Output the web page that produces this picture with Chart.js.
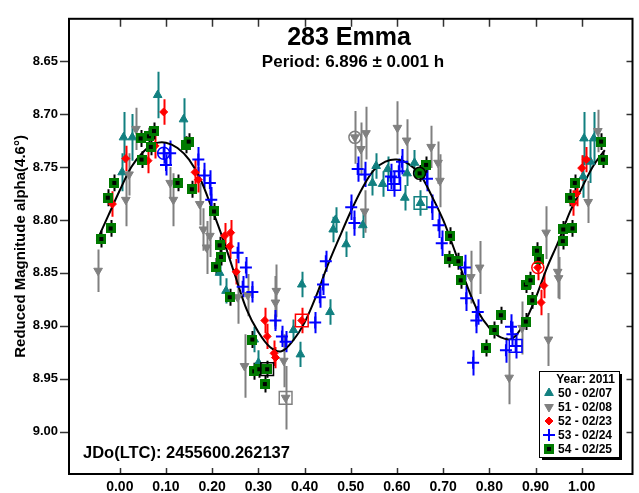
<!DOCTYPE html>
<html>
<head>
<meta charset="utf-8">
<script src="https://cdn.jsdelivr.net/npm/chart.js@4.4.1/dist/chart.umd.min.js"></script>
<style>
html, body { margin: 0; padding: 0; background: #fff; overflow: hidden; }
#wrap { width: 643px; height: 493px; }
</style>
</head>
<body>
<div id="wrap"><canvas id="lightcurve" width="643" height="493"></canvas></div>
<script>
// axis ticks
const xTicks = [0, 0.1, 0.2, 0.3, 0.4, 0.5, 0.6, 0.7, 0.8, 0.9, 1.0];
const xTickLabels = ['0.00', '0.10', '0.20', '0.30', '0.40', '0.50', '0.60', '0.70', '0.80', '0.90', '1.00'];
const yTicks = [8.65, 8.70, 8.75, 8.80, 8.85, 8.90, 8.95, 9.00];
const yTickLabels = ['8.65', '8.70', '8.75', '8.80', '8.85', '8.90', '8.95', '9.00'];

const sessionLabels = ['50 - 02/07', '51 - 02/08', '52 - 02/23', '53 - 02/24', '54 - 02/25'];

// session 50 - 02/07
const s50Phase = [0.008, 0.027, 0.005, 0.082, 0.138, 0.216, 0.230, 0.291, 0.300, 0.376, 0.391, 0.394, 0.455, 0.462, 0.467, 0.490, 0.526, 0.547, 0.555, 0.569, 0.580, 0.617, 0.622, 0.638, 0.651, 1.003, 1.005, 1.019, 1.026];
const s50Mag   = [8.722, 8.722, 8.755, 8.682, 8.705, 8.850, 8.867, 8.913, 8.935, 8.904, 8.927, 8.861, 8.887, 8.809, 8.800, 8.823, 8.805, 8.765, 8.749, 8.766, 8.752, 8.779, 8.756, 8.746, 8.784, 8.759, 8.723, 8.745, 8.723];
const s50Err   = [0.024, 0.022, 0.018, 0.022, 0.020, 0.012, 0.012, 0.012, 0.012, 0.010, 0.012, 0.012, 0.012, 0.012, 0.012, 0.012, 0.012, 0.012, 0.012, 0.012, 0.012, 0.012, 0.012, 0.012, 0.012, 0.020, 0.025, 0.020, 0.025];

// session 51 - 02/08
const s51Phase = [-0.047, 0.013, 0.020, 0.035, 0.109, 0.116, 0.173, 0.181, 0.188, 0.195, 0.255, 0.270, 0.277, 0.337, 0.339, 0.355, 0.359, 0.509, 0.522, 0.530, 0.533, 0.601, 0.621, 0.674, 0.689, 0.693, 0.760, 0.779, 0.843, 0.871, 0.923, 0.928, 0.948, 0.950, 1.014, 1.035];
const s51Mag   = [8.848, 8.781, 8.757, 8.714, 8.765, 8.781, 8.785, 8.809, 8.826, 8.815, 8.873, 8.938, 8.871, 8.878, 8.867, 8.933, 8.968, 8.722, 8.733, 8.792, 8.718, 8.713, 8.725, 8.731, 8.746, 8.763, 8.854, 8.845, 8.949, 8.902, 8.812, 8.913, 8.849, 8.855, 8.783, 8.716];
const s51Err   = [0.020, 0.025, 0.020, 0.020, 0.015, 0.025, 0.020, 0.020, 0.025, 0.020, 0.025, 0.030, 0.020, 0.025, 0.025, 0.025, 0.030, 0.025, 0.025, 0.020, 0.025, 0.025, 0.020, 0.020, 0.020, 0.025, 0.025, 0.025, 0.025, 0.025, 0.025, 0.025, 0.025, 0.020, 0.020, 0.020];

// session 52 - 02/23
const s52Phase = [-0.016, 0.013, 0.061, 0.076, 0.095, 0.163, 0.170, 0.227, 0.238, 0.240, 0.252, 0.314, 0.319, 0.334, 0.337, 0.394, 0.905, 0.912, 0.918, 0.982, 0.989, 1.000, 1.010];
const s52Mag   = [8.785, 8.742, 8.744, 8.730, 8.698, 8.755, 8.762, 8.815, 8.825, 8.812, 8.849, 8.895, 8.910, 8.926, 8.930, 8.895, 8.845, 8.878, 8.862, 8.784, 8.775, 8.751, 8.743];
const s52Err   = [0.012, 0.012, 0.012, 0.012, 0.012, 0.012, 0.012, 0.012, 0.012, 0.012, 0.012, 0.012, 0.012, 0.012, 0.010, 0.012, 0.012, 0.012, 0.012, 0.012, 0.012, 0.012, 0.012];

// session 53 - 02/24
const s53Phase = [0.095, 0.100, 0.109, 0.170, 0.183, 0.195, 0.198, 0.255, 0.266, 0.273, 0.287, 0.337, 0.351, 0.359, 0.423, 0.433, 0.440, 0.446, 0.501, 0.508, 0.515, 0.530, 0.587, 0.594, 0.604, 0.611, 0.665, 0.676, 0.690, 0.697, 0.747, 0.750, 0.765, 0.772, 0.775, 0.836, 0.847, 0.850, 0.857];
const s53Mag   = [8.737, 8.748, 8.737, 8.743, 8.758, 8.765, 8.781, 8.831, 8.863, 8.845, 8.868, 8.895, 8.910, 8.915, 8.897, 8.873, 8.861, 8.839, 8.788, 8.803, 8.752, 8.757, 8.759, 8.766, 8.754, 8.745, 8.761, 8.788, 8.805, 8.822, 8.845, 8.874, 8.935, 8.895, 8.887, 8.923, 8.901, 8.908, 8.919];
const s53Err   = [0.010, 0.010, 0.012, 0.012, 0.012, 0.012, 0.012, 0.010, 0.010, 0.010, 0.010, 0.010, 0.010, 0.010, 0.010, 0.010, 0.010, 0.010, 0.012, 0.012, 0.012, 0.012, 0.012, 0.012, 0.012, 0.012, 0.012, 0.012, 0.012, 0.012, 0.012, 0.012, 0.012, 0.012, 0.012, 0.012, 0.012, 0.012, 0.012];

// session 54 - 02/25
const s54Phase = [-0.040, -0.026, -0.020, -0.012, 0.045, 0.047, 0.063, 0.067, 0.074, 0.125, 0.144, 0.149, 0.156, 0.204, 0.208, 0.216, 0.219, 0.238, 0.287, 0.291, 0.302, 0.314, 0.319, 0.649, 0.663, 0.713, 0.715, 0.733, 0.738, 0.793, 0.811, 0.825, 0.879, 0.879, 0.889, 0.893, 0.903, 0.907, 0.959, 0.960, 0.975, 0.980, 0.985, 1.042, 1.046];
const s54Mag   = [8.818, 8.779, 8.808, 8.765, 8.723, 8.743, 8.721, 8.731, 8.716, 8.765, 8.729, 8.726, 8.771, 8.792, 8.844, 8.824, 8.835, 8.873, 8.913, 8.943, 8.941, 8.955, 8.941, 8.756, 8.748, 8.837, 8.815, 8.839, 8.857, 8.921, 8.904, 8.890, 8.896, 8.861, 8.857, 8.876, 8.829, 8.837, 8.820, 8.809, 8.779, 8.808, 8.765, 8.726, 8.743];
const s54Err   = [0.008, 0.008, 0.008, 0.008, 0.008, 0.008, 0.008, 0.008, 0.008, 0.008, 0.008, 0.008, 0.008, 0.008, 0.008, 0.008, 0.008, 0.008, 0.008, 0.008, 0.008, 0.008, 0.008, 0.008, 0.008, 0.008, 0.008, 0.008, 0.008, 0.008, 0.008, 0.008, 0.008, 0.008, 0.008, 0.008, 0.008, 0.008, 0.008, 0.008, 0.008, 0.008, 0.008, 0.008, 0.008];

// open markers on the first point of each session
const markPhase = [0.095, 0.509, 0.359, 0.394, 0.319, 0.649, 0.651, 0.594, 0.905, 0.857];
const markMag   = [8.737, 8.722, 8.968, 8.895, 8.941, 8.756, 8.784, 8.766, 8.845, 8.919];
const markStyle = ['circle', 'circle', 'rect', 'rect', 'rect', 'circle', 'rect', 'rect', 'circle', 'rect'];
const markColor = ['#0000ff', '#808080', '#808080', '#ff0000', '#000000', '#000000', '#128080', '#0000ff', '#ff0000', '#0000ff'];

// fourier fit
const fitPhase = [-0.05, -0.025, 0.0, 0.025, 0.05, 0.075, 0.10, 0.125, 0.15, 0.175, 0.20, 0.225, 0.25, 0.275, 0.30, 0.325, 0.35, 0.375, 0.40, 0.425, 0.45, 0.475, 0.50, 0.525, 0.55, 0.575, 0.60, 0.625, 0.65, 0.675, 0.70, 0.725, 0.75, 0.775, 0.80, 0.825, 0.85, 0.875, 0.90, 0.925, 0.95, 0.975, 1.00, 1.025, 1.05];
const fitMag   = [8.820, 8.796, 8.772, 8.750, 8.736, 8.728, 8.727, 8.732, 8.743, 8.762, 8.790, 8.820, 8.853, 8.885, 8.906, 8.920, 8.924, 8.914, 8.897, 8.872, 8.843, 8.817, 8.792, 8.770, 8.753, 8.745, 8.743, 8.747, 8.757, 8.777, 8.800, 8.829, 8.860, 8.886, 8.902, 8.911, 8.912, 8.898, 8.874, 8.845, 8.820, 8.792, 8.770, 8.749, 8.734];

const FONT = '"Liberation Sans", Arial, sans-serif';

function pts(ph, mg) {
    return ph.map(function (p, i) { return { x: p, y: mg[i] }; });
}

// green square with black centre
function greenSquare() {
    const c = document.createElement('canvas');
    c.width = 10; c.height = 10;
    const g = c.getContext('2d');
    g.fillStyle = '#007a00';
    g.fillRect(0, 0, 10, 10);
    g.fillStyle = '#000';
    g.fillRect(3, 3, 4, 4);
    return c;
}

document.addEventListener('DOMContentLoaded', function () {
    const sq = greenSquare();

    const errorBars = {
        id: 'errorBars',
        beforeDatasetsDraw(chart) {
            const ctx = chart.ctx, ys = chart.scales.y, a = chart.chartArea;
            ctx.save();
            ctx.beginPath();
            ctx.rect(a.left, a.top, a.right - a.left, a.bottom - a.top);
            ctx.clip();
            chart.data.datasets.forEach(function (ds, i) {
                if (!ds.errs) return;
                const meta = chart.getDatasetMeta(i);
                ctx.strokeStyle = ds.errColor;
                ctx.lineWidth = 2;
                meta.data.forEach(function (pt, j) {
                    const v = ds.data[j].y, e = ds.errs[j];
                    ctx.beginPath();
                    ctx.moveTo(Math.round(pt.x) + 0.5, ys.getPixelForValue(v - e));
                    ctx.lineTo(Math.round(pt.x) + 0.5, ys.getPixelForValue(v + e));
                    ctx.stroke();
                });
            });
            ctx.restore();
        }
    };

    const frame = {
        id: 'frame',
        afterDraw(chart) {
            const ctx = chart.ctx, a = chart.chartArea;
            const xs = chart.scales.x, ys = chart.scales.y;
            ctx.save();
            ctx.strokeStyle = '#333';
            ctx.lineWidth = 1.5;
            xTicks.forEach(function (v) {
                const px = Math.round(xs.getPixelForValue(v)) + 0.5;
                ctx.beginPath();
                ctx.moveTo(px, a.top); ctx.lineTo(px, a.top + 8);
                ctx.moveTo(px, a.bottom); ctx.lineTo(px, a.bottom - 6);
                ctx.stroke();
            });
            yTicks.forEach(function (v) {
                const py = Math.round(ys.getPixelForValue(v)) + 0.5;
                ctx.beginPath();
                ctx.moveTo(a.left - 9, py); ctx.lineTo(a.left, py);
                ctx.moveTo(a.right, py); ctx.lineTo(a.right - 6, py);
                ctx.stroke();
            });
            ctx.strokeStyle = '#000';
            ctx.lineWidth = 2;
            ctx.strokeRect(a.left, a.top, a.right - a.left, a.bottom - a.top);

            // titles
            ctx.fillStyle = '#000';
            ctx.textAlign = 'center';
            ctx.textBaseline = 'alphabetic';
            ctx.font = 'bold 25px ' + FONT;
            ctx.fillText('283 Emma', 349, 45);
            ctx.font = 'bold 17px ' + FONT;
            ctx.fillText('Period: 6.896 \u00b1 0.001 h', 353, 67);
            ctx.textAlign = 'left';
            ctx.font = 'bold 16.5px ' + FONT;
            ctx.fillText('JDo(LTC): 2455600.262137', 83, 458);

            // legend box
            const lx = 539, ly = 371, lw = 80, lh = 86;
            ctx.fillStyle = '#000';
            ctx.fillRect(lx + 3, ly + 3, lw, lh);
            ctx.fillStyle = '#fff';
            ctx.fillRect(lx, ly, lw, lh);
            ctx.strokeStyle = '#000';
            ctx.lineWidth = 1;
            ctx.strokeRect(lx + 0.5, ly + 0.5, lw, lh);
            ctx.fillStyle = '#000';
            ctx.font = 'bold 12px ' + FONT;
            ctx.textAlign = 'right';
            ctx.textBaseline = 'middle';
            ctx.fillText('Year: 2011', 615, 380);
            ctx.textAlign = 'left';
            for (let i = 0; i < 5; i++) {
                const ds = chart.data.datasets[i + 1];
                const ry = 393 + i * 14;
                ctx.fillStyle = ds.backgroundColor;
                ctx.strokeStyle = ds.borderColor;
                ctx.lineWidth = ds.borderWidth || 1;
                Chart.helpers.drawPoint(ctx, {
                    pointStyle: ds.pointStyle,
                    radius: ds.pointRadius,
                    rotation: ds.rotation || 0,
                    borderWidth: ds.borderWidth || 1
                }, 549, ry);
                ctx.fillStyle = '#000';
                ctx.fillText(ds.label, 558, ry + 0.5);
            }
            ctx.restore();
        }
    };

    new Chart(document.getElementById('lightcurve'), {
        type: 'scatter',
        data: {
            datasets: [
                {
                    type: 'line', label: 'fit', data: pts(fitPhase, fitMag),
                    borderColor: '#000', borderWidth: 2, pointRadius: 0, tension: 0.35,
                    fill: false, order: 6
                },
                {
                    label: sessionLabels[0], data: pts(s50Phase, s50Mag), errs: s50Err, errColor: '#128080',
                    pointStyle: 'triangle', pointRadius: 5, backgroundColor: '#128080', borderColor: '#128080',
                    borderWidth: 1, order: 5
                },
                {
                    label: sessionLabels[1], data: pts(s51Phase, s51Mag), errs: s51Err, errColor: '#808080',
                    pointStyle: 'triangle', rotation: 180, pointRotation: 180, pointRadius: 5,
                    backgroundColor: '#808080', borderColor: '#808080', borderWidth: 1, order: 4
                },
                {
                    label: sessionLabels[2], data: pts(s52Phase, s52Mag), errs: s52Err, errColor: '#ff0000',
                    pointStyle: 'rectRot', pointRadius: 4, backgroundColor: '#ff0000', borderColor: '#ff0000',
                    borderWidth: 1, order: 3
                },
                {
                    label: sessionLabels[3], data: pts(s53Phase, s53Mag), errs: s53Err, errColor: '#0000ff',
                    pointStyle: 'cross', pointRadius: 6, backgroundColor: '#0000ff', borderColor: '#0000ff',
                    borderWidth: 2, order: 2
                },
                {
                    label: sessionLabels[4], data: pts(s54Phase, s54Mag), errs: s54Err, errColor: '#000000',
                    pointStyle: sq, pointRadius: 5, backgroundColor: '#007a00', borderColor: '#007a00',
                    borderWidth: 1, order: 1
                },
                {
                    label: 'first', data: pts(markPhase, markMag),
                    pointStyle: markStyle, pointRadius: markStyle.map(function (s) { return s === 'rect' ? 9 : 6; }),
                    backgroundColor: 'rgba(0,0,0,0)', borderColor: markColor, borderWidth: 1.5, order: 0
                }
            ]
        },
        options: {
            responsive: false,
            animation: false,
            layout: { padding: { left: 0, top: 7, right: 3, bottom: 0 } },
            plugins: {
                legend: { display: false },
                tooltip: { enabled: false }
            },
            scales: {
                x: {
                    type: 'linear', min: -0.11, max: 1.11,
                    grid: { display: false, drawTicks: false },
                    border: { display: false },
                    afterBuildTicks: function (s) { s.ticks = xTicks.map(function (v) { return { value: v }; }); },
                    afterFit: function (s) { s.height = 19; },
                    ticks: {
                        autoSkip: false, maxRotation: 0, padding: 5, color: '#000',
                        font: { family: FONT, size: 14, weight: 'bold' },
                        callback: function (value, index) { return xTickLabels[index]; }
                    }
                },
                y: {
                    type: 'linear', min: 8.61, max: 9.04, reverse: true,
                    grid: { display: false, drawTicks: false },
                    border: { display: false },
                    afterBuildTicks: function (s) { s.ticks = yTicks.map(function (v) { return { value: v }; }); },
                    afterFit: function (s) { s.width = 69; },
                    ticks: {
                        padding: 11, color: '#000',
                        font: { family: FONT, size: 13, weight: 'bold' },
                        callback: function (value, index) { return yTickLabels[index]; }
                    },
                    title: {
                        display: true, text: 'Reduced Magnitude alpha(4.6\u00b0)', color: '#000',
                        padding: { top: 12, bottom: 0 },
                        font: { family: FONT, size: 15, weight: 'bold' }
                    }
                }
            }
        },
        plugins: [errorBars, frame]
    });
});
</script>
</body>
</html>
